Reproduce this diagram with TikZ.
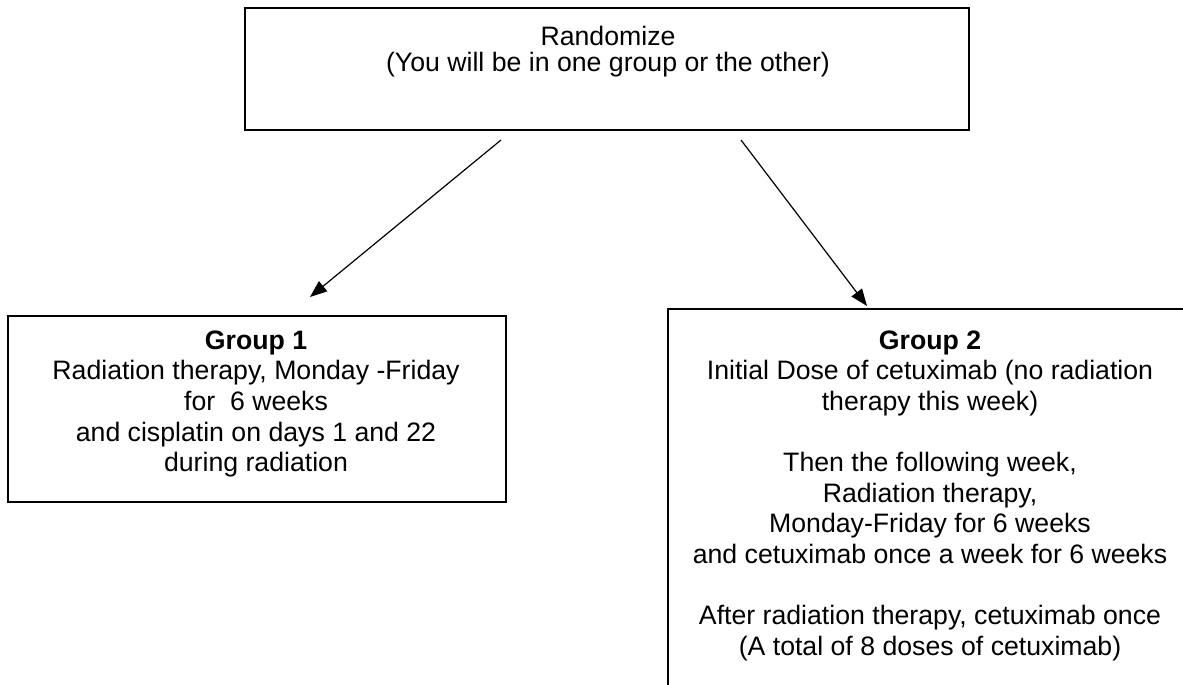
\documentclass[tikz,border=0pt]{standalone}
\usepackage{fontspec}
\setmainfont{Liberation Sans}
\usetikzlibrary{arrows.meta}
\begin{document}
\begin{tikzpicture}[x=1pt,y=-1pt,
  boxst/.style={draw, line width=1.8pt, rectangle, inner sep=0pt, anchor=north west},
  txt/.style={align=center, inner sep=0pt, anchor=north, font=\fontsize{26.67}{30.6}\selectfont},
  toptxt/.style={txt, font=\fontsize{26.67}{25.5}\selectfont},
  arr/.style={line width=1.2pt, -{Triangle[length=17pt,width=13pt]}}]
\useasboundingbox (0,0) rectangle (1183,685);
\clip (0,0) rectangle (1183,685);
% boxes
\node[boxst, minimum width=724pt, minimum height=122pt] (top) at (244,7) {};
\node[boxst, minimum width=498pt, minimum height=186pt] (g1) at (7,315) {};
\node[boxst, minimum width=540pt, minimum height=420pt] (g2) at (667,308) {};
% texts
\node[toptxt] (topt) at (608,26) {Randomize\\(You will be in one group or the other)};
\node[txt] (g1t) at (256,330.5) {\textbf{Group 1}\\Radiation therapy, Monday -Friday\\for~~6 weeks\\and cisplatin on days 1 and 22\\during radiation};
\node[txt] (g2t) at (930,330.5) {\textbf{Group 2}\\Initial Dose of cetuximab (no radiation\\therapy this week)\\[30.6pt]Then the following week,\\Radiation therapy,\\Monday-Friday for 6 weeks\\and cetuximab once a week for 6 weeks\\[30.6pt]After radiation therapy, cetuximab once\\(A total of 8 doses of cetuximab)};
% connectors
\coordinate (a1s) at (501,140);
\coordinate (a1e) at (310,297);
\coordinate (a2s) at (741,140);
\coordinate (a2e) at (867,306);
\draw[arr] (a1s) -- (a1e);
\draw[arr] (a2s) -- (a2e);
\end{tikzpicture}
\end{document}
